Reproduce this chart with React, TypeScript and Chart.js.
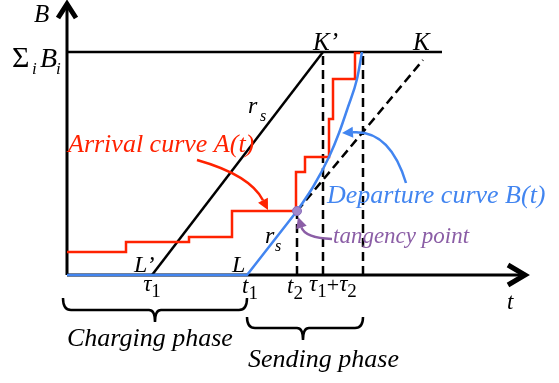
import { useEffect, useRef } from "react";
import { Chart, registerables } from "chart.js";

Chart.register(...registerables);

// ---- data (time units on x, bytes units on y; origin at the axes' crossing) ----
const SUM_B = 223; // Σ_i B_i level
const TAU1 = 85; // τ1 (L')
const T1 = 180; // t1 (L)
const T2 = 230; // t2 (tangency)
const TAU1_TAU2 = 256; // τ1+τ2 (K')
const T_END = 296; // end of sending phase
const K_T = 356; // K
const TOP_END = 375;
const X_AXIS_END = 458;
const Y_AXIS_END = 270;

const ARRIVAL_T = [0, 59, 122, 165, 229, 238, 262, 266, 288, 293];
const ARRIVAL_B = [23, 33, 38, 64, 103, 118, 156, 196, 222, 222];

const DEPART_LIN_T = [0, T1, T2];
const DEPART_LIN_B = [0, 0, 64];
const DEPART_CURVE_T = [230, 246, 262, 272, 281, 290, 295];
const DEPART_CURVE_B = [64, 88, 118, 142, 168, 196, 223];

const TANGENCY = { x: T2, y: 64 };

const RED = "#ff2200";
const BLUE = "#4285f0";
const PURPLE = "#8b5ea6";
const SERIF = '"Liberation Serif", "DejaVu Serif", serif';

const pts = (xs: number[], ys: number[]) => xs.map((x, i) => ({ x, y: ys[i] }));

const diagramPlugin = {
  id: "diagram",
  beforeDatasetsDraw(chart: any) {
    const ctx: CanvasRenderingContext2D = chart.ctx;
    const X = (v: number) => chart.scales.x.getPixelForValue(v);
    const Y = (v: number) => chart.scales.y.getPixelForValue(v);
    ctx.save();
    ctx.strokeStyle = "#000";
    ctx.lineWidth = 3;
    ctx.beginPath();
    ctx.moveTo(X(0), Y(0));
    ctx.lineTo(X(X_AXIS_END), Y(0));
    ctx.moveTo(X(0), Y(0));
    ctx.lineTo(X(0), Y(Y_AXIS_END));
    ctx.stroke();
    // chevron arrow heads
    ctx.lineWidth = 5;
    ctx.lineJoin = "miter";
    ctx.beginPath();
    ctx.moveTo(X(-9), Y(Y_AXIS_END - 13));
    ctx.lineTo(X(0), Y(Y_AXIS_END + 1));
    ctx.lineTo(X(9), Y(Y_AXIS_END - 13));
    ctx.stroke();
    ctx.beginPath();
    ctx.moveTo(X(X_AXIS_END - 17), Y(10));
    ctx.lineTo(X(X_AXIS_END), Y(0));
    ctx.lineTo(X(X_AXIS_END - 17), Y(-10));
    ctx.stroke();
    ctx.restore();
  },
  afterDatasetsDraw(chart: any) {
    const ctx: CanvasRenderingContext2D = chart.ctx;
    const X = (v: number) => chart.scales.x.getPixelForValue(v);
    const Y = (v: number) => chart.scales.y.getPixelForValue(v);
    ctx.save();

    const txt = (
      s: string,
      x: number,
      y: number,
      size: number,
      color = "#000",
      italic = true,
      align: CanvasTextAlign = "left"
    ) => {
      ctx.font = `${italic ? "italic " : ""}${size}px ${SERIF}`;
      ctx.fillStyle = color;
      ctx.textAlign = align;
      ctx.textBaseline = "alphabetic";
      ctx.fillText(s, X(x), Y(y));
    };
    // sym with subscript, centred on x
    const sub = (main: string, s: string, cx: number, y: number, size = 23, subSize = 19) => {
      ctx.font = `italic ${size}px ${SERIF}`;
      const w1 = ctx.measureText(main).width;
      ctx.font = `${subSize}px ${SERIF}`;
      const w2 = ctx.measureText(s).width;
      const left = X(cx) - (w1 + w2) / 2;
      ctx.fillStyle = "#000";
      ctx.textAlign = "left";
      ctx.font = `italic ${size}px ${SERIF}`;
      ctx.fillText(main, left, Y(y));
      ctx.font = `${subSize}px ${SERIF}`;
      ctx.fillText(s, left + w1, Y(y) + 6);
    };

    // axis labels
    txt("B", -33, 253, 25);
    txt("Σ", -55, 208, 30, "#000", false);
    txt("i", -35, 201, 17);
    txt("B", -27, 208, 28);
    txt("i", -11, 201, 17);
    txt("t", 440, -34, 23);

    txt("K’", TAU1_TAU2 - 10, 225, 25);
    txt("K", K_T - 10, 225, 25);

    // r_s labels
    txt("r", 181, 162, 24);
    txt("s", 193, 154, 16);
    txt("r", 198, 32, 24);
    txt("s", 208, 24, 16);

    txt("L’", TAU1 - 18, 3, 24);
    txt("L", T1 - 15, 3, 24);

    // tick labels
    sub("τ", "1", TAU1, -16);
    sub("t", "1", T1 + 3, -18);
    sub("t", "2", T2 - 2, -18);
    ctx.font = `italic 23px ${SERIF}`;
    const wt = ctx.measureText("τ").width;
    ctx.font = `19px ${SERIF}`;
    const w1 = ctx.measureText("1").width;
    ctx.font = `22px ${SERIF}`;
    const wp = ctx.measureText("+").width;
    let lx = X(TAU1_TAU2) - 14;
    ctx.fillStyle = "#000";
    ctx.font = `italic 23px ${SERIF}`;
    ctx.fillText("τ", lx, Y(-16));
    lx += wt;
    ctx.font = `19px ${SERIF}`;
    ctx.fillText("1", lx, Y(-16) + 6);
    lx += w1;
    ctx.font = `22px ${SERIF}`;
    ctx.fillText("+", lx, Y(-16) + 1);
    lx += wp;
    ctx.font = `italic 23px ${SERIF}`;
    ctx.fillText("τ", lx, Y(-16));
    lx += wt;
    ctx.font = `19px ${SERIF}`;
    ctx.fillText("2", lx, Y(-16) + 6);

    // annotations
    txt("Arrival curve A(t)", 1, 123, 26, RED);
    txt("Departure curve B(t)", 260, 72, 26, BLUE);
    txt("tangency point", 266, 32, 23, PURPLE);
    txt("Charging phase", 0, -71, 26);
    txt("Sending phase", 181, -92, 26);

    // curved arrows
    const arrow = (
      sx: number, sy: number, cx: number, cy: number, ex: number, ey: number, color: string
    ) => {
      const p0 = [X(sx), Y(sy)], pc = [X(cx), Y(cy)], p1 = [X(ex), Y(ey)];
      const ang = Math.atan2(p1[1] - pc[1], p1[0] - pc[0]);
      const len = 11, half = 5.5;
      const bx = p1[0] - len * Math.cos(ang), by = p1[1] - len * Math.sin(ang);
      ctx.strokeStyle = color;
      ctx.fillStyle = color;
      ctx.lineWidth = 2.5;
      ctx.beginPath();
      ctx.moveTo(p0[0], p0[1]);
      ctx.quadraticCurveTo(pc[0], pc[1], bx, by);
      ctx.stroke();
      ctx.beginPath();
      ctx.moveTo(p1[0], p1[1]);
      ctx.lineTo(bx + half * Math.sin(ang), by - half * Math.cos(ang));
      ctx.lineTo(bx - half * Math.sin(ang), by + half * Math.cos(ang));
      ctx.closePath();
      ctx.fill();
    };
    arrow(130, 115, 183, 100, 201, 65, RED);
    arrow(339, 92, 323, 145, 275, 142, BLUE);
    arrow(265, 36, 238, 37, 231, 58, PURPLE);

    // braces
    const brace = (xl: number, xr: number, xm: number, yTop: number, yLine: number, yNub: number) => {
      const r = 8;
      ctx.strokeStyle = "#000";
      ctx.lineWidth = 2.5;
      ctx.beginPath();
      ctx.moveTo(X(xl), Y(yTop));
      ctx.quadraticCurveTo(X(xl), Y(yLine), X(xl) + r, Y(yLine));
      ctx.lineTo(X(xm) - 6, Y(yLine));
      ctx.quadraticCurveTo(X(xm), Y(yLine), X(xm), Y(yNub));
      ctx.quadraticCurveTo(X(xm), Y(yLine), X(xm) + 6, Y(yLine));
      ctx.lineTo(X(xr) - r, Y(yLine));
      ctx.quadraticCurveTo(X(xr), Y(yLine), X(xr), Y(yTop));
      ctx.stroke();
    };
    brace(-4, T1, 88, -23, -35, -47);
    brace(T1, T_END, 236, -42, -53, -65);

    ctx.restore();
  },
};

export default function App() {
  const ref = useRef<HTMLCanvasElement>(null);
  useEffect(() => {
    if (!ref.current) return;
    const line = (data: any[], color: string, width: number, order: number, extra: any = {}) => ({
      data,
      showLine: true,
      borderColor: color,
      backgroundColor: color,
      borderWidth: width,
      pointRadius: 0,
      fill: false,
      order,
      ...extra,
    });
    const chart = new Chart(ref.current, {
      type: "scatter",
      data: {
        datasets: [
          {
            data: [TANGENCY],
            pointRadius: 4.5,
            pointBackgroundColor: "#a088cc",
            pointBorderColor: "#8a6cb8",
            pointBorderWidth: 1,
            showLine: false,
            order: 0,
          } as any,
          line(pts(DEPART_LIN_T, DEPART_LIN_B), BLUE, 2.5, 1),
          line(pts(DEPART_CURVE_T, DEPART_CURVE_B), BLUE, 2.5, 1, { tension: 0.4, cubicInterpolationMode: "monotone" }),
          line(pts(ARRIVAL_T, ARRIVAL_B), RED, 2.5, 2, { stepped: "before" }),
          line([{ x: T2, y: 0 }, { x: T2, y: TANGENCY.y }], "#000", 2.5, 3, { borderDash: [9, 5] }),
          line([{ x: TAU1_TAU2, y: 0 }, { x: TAU1_TAU2, y: SUM_B }], "#000", 2.5, 3, { borderDash: [9, 5] }),
          line([{ x: T_END, y: 0 }, { x: T_END, y: SUM_B }], "#000", 2.5, 3, { borderDash: [9, 5] }),
          line([TANGENCY, { x: K_T, y: SUM_B - 8 }], "#000", 2.5, 3, { borderDash: [9, 5] }),
          line([{ x: TAU1, y: 0 }, { x: TAU1_TAU2, y: SUM_B }], "#000", 2.5, 4),
          line([{ x: 0, y: SUM_B }, { x: TOP_END, y: SUM_B }], "#000", 2.5, 4),
        ],
      },
      options: {
        responsive: false,
        animation: false,
        devicePixelRatio: 1,
        layout: { padding: 0, autoPadding: false },
        plugins: { legend: { display: false }, tooltip: { enabled: false } },
        scales: {
          x: { type: "linear", min: -67, max: 492, display: false },
          y: { type: "linear", min: -108, max: 275, display: false },
        },
      },
      plugins: [diagramPlugin],
    });
    return () => chart.destroy();
  }, []);
  return (
    <div style={{ position: "fixed", left: 0, top: 0, width: 559, height: 383, background: "#fff" }}>
      <canvas ref={ref} width={559} height={383} />
    </div>
  );
}
